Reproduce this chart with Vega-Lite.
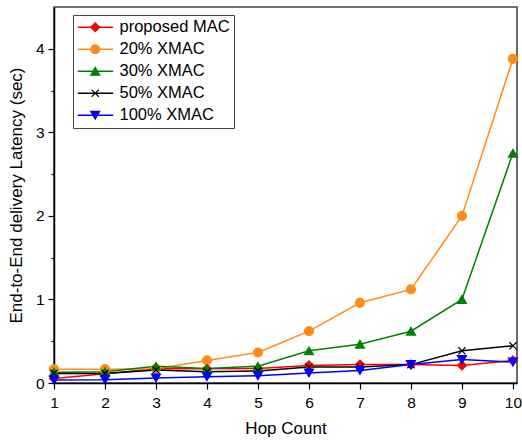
{
  "$schema": "https://vega.github.io/schema/vega-lite/v6.json",
  "autosize": {"type": "none"},
  "width": 463,
  "height": 376,
  "padding": {"left": 54, "top": 7, "right": 5, "bottom": 57},
  "background": "white",
  "config": {
    "view": {"stroke": "#444", "strokeWidth": 1.6},
    "font": "Liberation Sans"
  },
  "data": {
    "values": [
      {"hop": 1, "series": "proposed MAC", "lat": 0.055},
      {"hop": 2, "series": "proposed MAC", "lat": 0.11},
      {"hop": 3, "series": "proposed MAC", "lat": 0.17},
      {"hop": 4, "series": "proposed MAC", "lat": 0.17},
      {"hop": 5, "series": "proposed MAC", "lat": 0.175},
      {"hop": 6, "series": "proposed MAC", "lat": 0.21},
      {"hop": 7, "series": "proposed MAC", "lat": 0.22},
      {"hop": 8, "series": "proposed MAC", "lat": 0.22},
      {"hop": 9, "series": "proposed MAC", "lat": 0.21},
      {"hop": 10, "series": "proposed MAC", "lat": 0.27},
      {"hop": 1, "series": "20% XMAC", "lat": 0.165},
      {"hop": 2, "series": "20% XMAC", "lat": 0.165},
      {"hop": 3, "series": "20% XMAC", "lat": 0.17},
      {"hop": 4, "series": "20% XMAC", "lat": 0.27},
      {"hop": 5, "series": "20% XMAC", "lat": 0.365},
      {"hop": 6, "series": "20% XMAC", "lat": 0.62},
      {"hop": 7, "series": "20% XMAC", "lat": 0.96},
      {"hop": 8, "series": "20% XMAC", "lat": 1.12},
      {"hop": 9, "series": "20% XMAC", "lat": 2.0},
      {"hop": 10, "series": "20% XMAC", "lat": 3.88},
      {"hop": 1, "series": "30% XMAC", "lat": 0.13},
      {"hop": 2, "series": "30% XMAC", "lat": 0.135},
      {"hop": 3, "series": "30% XMAC", "lat": 0.2},
      {"hop": 4, "series": "30% XMAC", "lat": 0.175},
      {"hop": 5, "series": "30% XMAC", "lat": 0.2},
      {"hop": 6, "series": "30% XMAC", "lat": 0.385},
      {"hop": 7, "series": "30% XMAC", "lat": 0.465},
      {"hop": 8, "series": "30% XMAC", "lat": 0.62},
      {"hop": 9, "series": "30% XMAC", "lat": 1.0},
      {"hop": 10, "series": "30% XMAC", "lat": 2.75},
      {"hop": 1, "series": "50% XMAC", "lat": 0.115},
      {"hop": 2, "series": "50% XMAC", "lat": 0.115},
      {"hop": 3, "series": "50% XMAC", "lat": 0.155},
      {"hop": 4, "series": "50% XMAC", "lat": 0.135},
      {"hop": 5, "series": "50% XMAC", "lat": 0.145},
      {"hop": 6, "series": "50% XMAC", "lat": 0.19},
      {"hop": 7, "series": "50% XMAC", "lat": 0.19},
      {"hop": 8, "series": "50% XMAC", "lat": 0.22},
      {"hop": 9, "series": "50% XMAC", "lat": 0.385},
      {"hop": 10, "series": "50% XMAC", "lat": 0.445},
      {"hop": 1, "series": "100% XMAC", "lat": 0.035},
      {"hop": 2, "series": "100% XMAC", "lat": 0.04},
      {"hop": 3, "series": "100% XMAC", "lat": 0.06},
      {"hop": 4, "series": "100% XMAC", "lat": 0.075},
      {"hop": 5, "series": "100% XMAC", "lat": 0.087},
      {"hop": 6, "series": "100% XMAC", "lat": 0.12},
      {"hop": 7, "series": "100% XMAC", "lat": 0.15},
      {"hop": 8, "series": "100% XMAC", "lat": 0.22},
      {"hop": 9, "series": "100% XMAC", "lat": 0.28},
      {"hop": 10, "series": "100% XMAC", "lat": 0.25}
    ]
  },
  "layer": [
    {
      "mark": {"type": "line", "strokeWidth": 1.5},
      "encoding": {
        "x": {
          "field": "hop", "type": "quantitative",
          "scale": {"domain": [1, 10.08], "nice": false, "zero": false},
          "axis": {
            "title": "Hop Count",
            "titleFont": "Liberation Sans", "titleFontSize": 17, "titleFontWeight": "normal", "titleColor": "black",
            "titlePadding": 10,
            "values": [1, 1.5, 2, 2.5, 3, 3.5, 4, 4.5, 5, 5.5, 6, 6.5, 7, 7.5, 8, 8.5, 9, 9.5, 10],
            "labelExpr": "datum.value % 1 === 0 ? format(datum.value, 'd') : ''",
            "labelFontSize": 15.5, "labelColor": "black", "labelPadding": 6, "labelFlush": false,
            "tickSize": {"condition": {"test": "datum.value % 1 !== 0", "value": 3}, "value": 6},
            "tickColor": "black", "tickWidth": 1.2,
            "domainColor": "black", "domainWidth": 1.5,
            "grid": false
          }
        },
        "y": {
          "field": "lat", "type": "quantitative",
          "scale": {"domain": [0, 4.5], "nice": false},
          "axis": {
            "title": "End-to-End delivery Latency (sec)",
            "titleFont": "Liberation Sans", "titleFontSize": 17, "titleFontWeight": "normal", "titleColor": "black",
            "titlePadding": 10,
            "values": [0, 0.5, 1, 1.5, 2, 2.5, 3, 3.5, 4],
            "labelExpr": "datum.value % 1 === 0 ? format(datum.value, 'd') : ''",
            "labelFontSize": 15.5, "labelColor": "black", "labelPadding": 4, "labelFlush": false,
            "tickSize": {"condition": {"test": "datum.value % 1 !== 0", "value": 3}, "value": 6},
            "tickColor": "black", "tickWidth": 1.2,
            "domainColor": "black", "domainWidth": 1.5,
            "grid": false
          }
        },
        "color": {
          "field": "series", "type": "nominal",
          "scale": {
            "domain": ["proposed MAC", "20% XMAC", "30% XMAC", "50% XMAC", "100% XMAC"],
            "range": ["#ff0000", "#ff8c1a", "#008000", "#000000", "#0000ff"]
          },
          "legend": {
            "title": null, "orient": "none", "legendX": 19, "legendY": 8,
            "symbolType": "M-1.67,0L6.2,0", "symbolSize": 81, "symbolStrokeWidth": 1.5,
            "labelFont": "Liberation Sans", "labelFontSize": 16.5, "labelColor": "black", "labelOffset": 26,
            "rowPadding": 5, "padding": 4, "strokeColor": "#444"
          }
        }
      }
    },
    {
      "mark": {"type": "point", "filled": false, "opacity": 1, "size": 81, "strokeWidth": 1.2},
      "encoding": {
        "x": {"field": "hop", "type": "quantitative"},
        "y": {"field": "lat", "type": "quantitative"},
        "shape": {
          "field": "series", "type": "nominal", "sort": null,
          "scale": {
            "range": ["diamond", "circle", "triangle-up", "M-0.8,-0.8L0.8,0.8M-0.8,0.8L0.8,-0.8", "triangle-down"]
          },
          "legend": {
            "title": null, "orient": "none", "legendX": 29, "legendY": 8,
            "symbolSize": 81, "symbolStrokeWidth": 1.2, "symbolOpacity": 1,
            "labelFont": "Liberation Sans", "labelFontSize": 16.5, "labelExpr": "' '", "labelOffset": 10,
            "rowPadding": 5, "padding": 4
          }
        },
        "fill": {
          "field": "series", "type": "nominal", "sort": null,
          "scale": {
            "range": ["#ff0000", "#ff8c1a", "#008000", "#000000", "#0000ff"]
          },
          "legend": {
            "title": null, "orient": "none", "legendX": 29, "legendY": 8,
            "symbolSize": 81, "symbolStrokeWidth": 1.2, "symbolOpacity": 1,
            "labelFont": "Liberation Sans", "labelFontSize": 16.5, "labelExpr": "' '", "labelOffset": 10,
            "rowPadding": 5, "padding": 4
          }
        },
        "stroke": {
          "field": "series", "type": "nominal", "sort": null,
          "scale": {
            "range": ["#ff0000", "#ff8c1a", "#008000", "#000000", "#0000ff"]
          },
          "legend": {
            "title": null, "orient": "none", "legendX": 29, "legendY": 8,
            "symbolSize": 81, "symbolStrokeWidth": 1.2, "symbolOpacity": 1,
            "labelFont": "Liberation Sans", "labelFontSize": 16.5, "labelExpr": "' '", "labelOffset": 10,
            "rowPadding": 5, "padding": 4
          }
        }
      }
    }
  ],
  "resolve": {"scale": {"color": "independent"}}
}
